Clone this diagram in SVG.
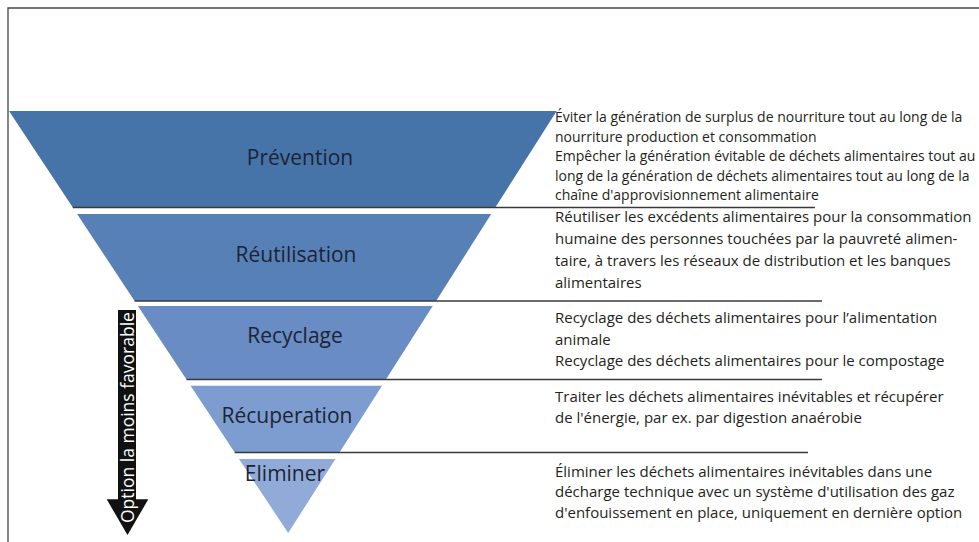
<svg xmlns="http://www.w3.org/2000/svg" width="979" height="542" viewBox="0 0 979 542">
<style>
.lbl{font-family:"Open Sans","Noto Sans","Liberation Sans",sans-serif;font-size:21px;fill:#1b2436;text-anchor:middle}
.d1{font-family:"Open Sans","Noto Sans","Liberation Sans",sans-serif;font-size:14px;fill:#231f20}
.d2{font-family:"Open Sans","Noto Sans","Liberation Sans",sans-serif;font-size:15px;fill:#231f20}
.sep{stroke:#3a3a3a;stroke-width:1.5;fill:none}
.frame{stroke:#444;stroke-width:1.3;fill:none}
.arrtxt{font-family:"Open Sans","Noto Sans","Liberation Sans",sans-serif;font-size:17.5px;fill:#ffffff}
</style>
<rect width="979" height="542" fill="#ffffff"/>
<g id="frame">
<path class="frame" d="M8,542 V8 H979"/>
</g>
<g id="prevention">
<polygon points="9,111 556.7,111 495.3,207.5 72.8,207.5" fill="#4674a8"/>
<text class="lbl" x="300" y="165">Prévention</text>
<text class="d1" x="555"><tspan x="555" y="122">Éviter la génération de surplus de nourriture tout au long de la</tspan><tspan x="555" y="141.5">nourriture production et consommation</tspan><tspan x="555" y="161">Empêcher la génération évitable de déchets alimentaires tout au</tspan><tspan x="555" y="180.5">long de la génération de déchets alimentaires tout au long de la</tspan><tspan x="555" y="200">chaîne d'approvisionnement alimentaire</tspan></text>
</g>
<g id="reutilisation">
<polygon points="77.1,214 491.2,214 436.1,301 134.6,301" fill="#5780b7"/>
<text class="lbl" x="296" y="262">Réutilisation</text>
<text class="d2"><tspan x="555" y="221.5">Réutiliser les excédents alimentaires pour la consommation</tspan><tspan x="555" y="243.5">humaine des personnes touchées par la pauvreté alimen-</tspan><tspan x="555" y="265.5">taire, à travers les réseaux de distribution et les banques</tspan><tspan x="555" y="287.5">alimentaires</tspan></text>
</g>
<g id="recyclage">
<polygon points="137.9,306 432.7,306 385.9,379.5 186.5,379.5" fill="#688cc3"/>
<text class="lbl" x="295" y="342.5">Recyclage</text>
<text class="d2"><tspan x="555" y="323">Recyclage des déchets alimentaires pour l’alimentation</tspan><tspan x="555" y="344.5">animale</tspan><tspan x="555" y="366">Recyclage des déchets alimentaires pour le compostage</tspan></text>
</g>
<g id="recuperation">
<polygon points="190.6,385.7 382,385.7 339.5,452.5 234.7,452.5" fill="#7d9dd0"/>
<text class="lbl" x="287" y="422.5">Récuperation</text>
<text class="d2"><tspan x="555" y="401.5">Traiter les déchets alimentaires inévitables et récupérer</tspan><tspan x="555" y="422.5">de l'énergie, par ex. par digestion anaérobie</tspan></text>
</g>
<g id="eliminer">
<polygon points="239,459 335.4,459 288.2,533" fill="#91abd9"/>
<text class="lbl" x="285" y="480.5">Eliminer</text>
<text class="d2"><tspan x="555" y="476.5">Éliminer les déchets alimentaires inévitables dans une</tspan><tspan x="555" y="497">décharge technique avec un système d'utilisation des gaz</tspan><tspan x="555" y="517.5">d'enfouissement en place, uniquement en dernière option</tspan></text>
</g>
<g id="connectors">
<line class="sep" x1="72.8" y1="207.5" x2="815" y2="207.5"/>
<line class="sep" x1="134.6" y1="301" x2="822" y2="301"/>
<line class="sep" x1="186.5" y1="379.5" x2="822" y2="379.5"/>
<line class="sep" x1="234.7" y1="452.5" x2="808" y2="452.5"/>
</g>
<g id="arrow">
<rect x="118" y="310" width="18" height="190" fill="#111111"/>
<polygon points="106.7,499.3 148.3,499.3 127.5,535" fill="#111111"/>
<text class="arrtxt" transform="translate(133.5,523) rotate(-90)">Option la moins favorable</text>
</g>
</svg>
